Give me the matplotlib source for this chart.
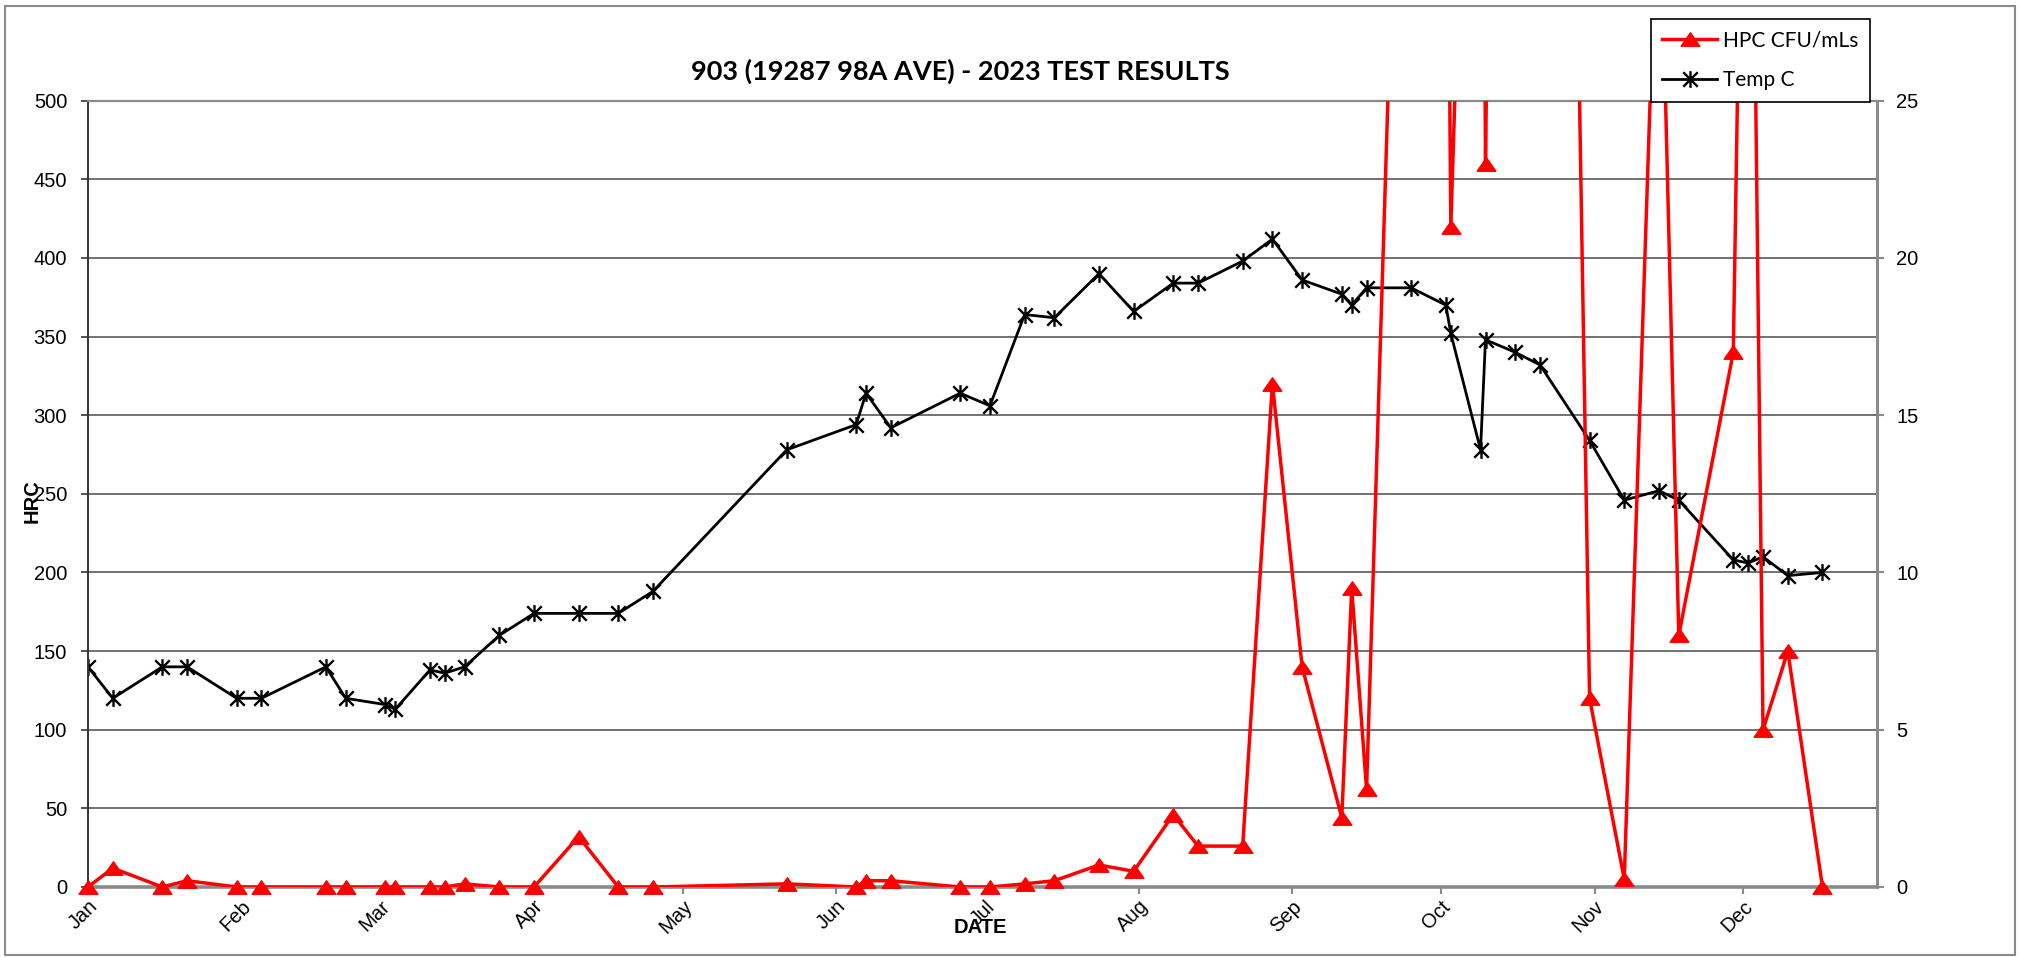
import matplotlib
matplotlib.use("Agg")
import matplotlib.pyplot as plt
import matplotlib.dates as mdates
import numpy as np
import pandas as pd
from matplotlib.path import Path
from matplotlib.patches import Rectangle
from matplotlib.lines import Line2D

# sample dates (2023)
dates = ["2023-01-01", "2023-01-06", "2023-01-16", "2023-01-21", "2023-01-31",
         "2023-02-05", "2023-02-18", "2023-02-22", "2023-03-02", "2023-03-04",
         "2023-03-11", "2023-03-14", "2023-03-18", "2023-03-25", "2023-04-01",
         "2023-04-10", "2023-04-18", "2023-04-25", "2023-05-22", "2023-06-05",
         "2023-06-07", "2023-06-12", "2023-06-26", "2023-07-02", "2023-07-09",
         "2023-07-15", "2023-07-24", "2023-07-31", "2023-08-08", "2023-08-13",
         "2023-08-22", "2023-08-28", "2023-09-03", "2023-09-11", "2023-09-13",
         "2023-09-16", "2023-09-25", "2023-10-02", "2023-10-03", "2023-10-09",
         "2023-10-10", "2023-10-16", "2023-10-21", "2023-10-31", "2023-11-07",
         "2023-11-14", "2023-11-18", "2023-11-29", "2023-12-02", "2023-12-05",
         "2023-12-10", "2023-12-17"]

# HPC CFU/mL (left axis, clipped at 500)
hpc = [0, 12, 0, 4, 0,
       0, 0, 0, 0, 0,
       0, 0, 2, 0, 0,
       32, 0, 0, 2, 0,
       4, 4, 0, 0, 2,
       4, 14, 10, 46, 26,
       26, 320, 140, 44, 190,
       62, 980, 800, 420, 1020,
       460, 2000, 2000, 120, 5,
       670, 160, 340, 920, 100,
       150, 0]

# water temperature, deg C (right axis)
temp = [7.0, 6.0, 7.0, 7.0, 6.0,
        6.0, 7.0, 6.0, 5.8, 5.65,
        6.9, 6.8, 7.0, 8.0, 8.7,
        8.7, 8.7, 9.4, 13.9, 14.7,
        15.7, 14.6, 15.7, 15.3, 18.2,
        18.1, 19.5, 18.3, 19.2, 19.2,
        19.9, 20.6, 19.3, 18.85, 18.5,
        19.05, 19.05, 18.5, 17.6, 13.9,
        17.4, 17.0, 16.6, 14.2, 12.3,
        12.6, 12.3, 10.4, 10.3, 10.5,
        9.9, 10.0]

x = pd.to_datetime(dates)
hpc_arr = np.array(hpc, dtype=float)
shown = hpc_arr <= 500

W, H = 2019, 957
fig = plt.figure(figsize=(W / 100, H / 100), dpi=100)
fig.patch.set_facecolor("white")

# outer chart border
fig.add_artist(Rectangle((5 / W, 1 - 955 / H), 2010 / W, 949 / H,
                         transform=fig.transFigure, fill=False,
                         edgecolor="#8a8a8a", lw=1.5))

left, right, bottom, top = 88, 1877, 887, 100.7
ax = fig.add_axes([left / W, 1 - bottom / H, (right - left) / W, (bottom - top) / H])
ax2 = ax.twinx()

# markers: asterisk (Excel "star") and flat triangle
star = Path([(-1, -1), (1, 1), (-1, 1), (1, -1), (0, -1.15), (0, 1.15)],
            [Path.MOVETO, Path.LINETO, Path.MOVETO, Path.LINETO, Path.MOVETO, Path.LINETO])
tri = Path([(-1, -0.72), (1, -0.72), (0, 0.72), (-1, -0.72)],
           [Path.MOVETO, Path.LINETO, Path.LINETO, Path.CLOSEPOLY])

ax2.plot(x, temp, color="black", lw=2.0, marker=star, ms=12,
         mfc="none", mec="black", mew=1.7, zorder=3)
# HPC line is clipped at the top; markers drawn separately so the ones on 0 are whole
ax.plot(x, hpc_arr, color="#ff0000", lw=2.5, zorder=3)
ax.plot(x[shown], hpc_arr[shown], ls="none", marker=tri, ms=13.5,
        mfc="#ff0000", mec="#ff0000", zorder=4, clip_on=False)

ax.set_zorder(ax2.get_zorder() + 1)
ax.patch.set_visible(False)

ax.set_ylim(0, 500)
ax2.set_ylim(0, 25)
ax.set_xlim(pd.Timestamp("2023-01-01"), pd.Timestamp("2023-12-28"))

ax.set_yticks(np.arange(0, 501, 50))
ax2.set_yticks(np.arange(0, 26, 5))
ax2.set_yticks(np.arange(0, 26, 2.5), minor=True)
ax2.grid(True, which="both", axis="y", color="#4a4a4a", lw=1.1)
ax2.tick_params(axis="y", which="minor", length=0)

ax.xaxis.set_major_locator(mdates.MonthLocator())
ax.xaxis.set_major_formatter(mdates.DateFormatter("%b"))

for lab in ax.get_yticklabels() + ax2.get_yticklabels():
    lab.set_fontfamily("Liberation Sans")
    lab.set_fontsize(14.5)
ax.tick_params(axis="y", length=5, width=1.2, color="#333333", pad=10)
ax2.tick_params(axis="y", which="major", length=5, width=1.5, color="#8a8a8a", pad=9)
ax.tick_params(axis="x", length=5, width=1.5, color="#8a8a8a", pad=2)
for lab in ax.get_xticklabels():
    lab.set_fontfamily("Liberation Sans")
    lab.set_fontsize(14.5)
    lab.set_rotation(45)
    lab.set_ha("right")
    lab.set_va("top")
    lab.set_rotation_mode("anchor")

for s in ["top", "right", "left", "bottom"]:
    ax2.spines[s].set_visible(False)
ax.spines["right"].set_visible(False)
ax.spines["left"].set_color("#333333")
ax.spines["left"].set_linewidth(1.4)
ax.spines["bottom"].set_color("#8a8a8a")
ax.spines["bottom"].set_linewidth(2.6)
ax.spines["bottom"].set_zorder(2)
ax.spines["top"].set_color("#8a8a8a")
ax.spines["top"].set_linewidth(1.6)
ax2.spines["right"].set_visible(True)
ax2.spines["right"].set_color("#8a8a8a")
ax2.spines["right"].set_linewidth(2.2)

ax.set_ylabel("HRC", fontfamily="Liberation Sans", fontweight="bold", fontsize=14.5)
ax.yaxis.set_label_coords(-0.0257, 0.491)
ax.set_xlabel("DATE", fontfamily="Liberation Sans", fontweight="bold", fontsize=14.5)
ax.xaxis.set_label_coords(0.499, -0.04)

fig.text(960 / W, 1 - 71 / H, "903 (19287 98A AVE) - 2023 TEST RESULTS",
         ha="center", va="center", fontfamily="Lato", fontweight="bold", fontsize=19.5)

handles = [Line2D([], [], color="#ff0000", lw=2.5, marker=tri, ms=13.5, mfc="#ff0000", mec="#ff0000"),
           Line2D([], [], color="black", lw=2.0, marker=star, ms=12, mfc="none", mec="black", mew=1.7)]
leg = fig.legend(handles, ["HPC CFU/mLs", "Temp C"], loc="upper left",
                 bbox_to_anchor=(1651 / W, 1 - 19 / H), frameon=True, fancybox=False,
                 edgecolor="black", framealpha=1, handlelength=2.6, handletextpad=0.3,
                 labelspacing=0.95, borderpad=0.55, borderaxespad=0,
                 prop={"family": "Lato", "size": 15})
leg.get_frame().set_linewidth(1.2)

fig.savefig("out.png", dpi=100, facecolor="white")
